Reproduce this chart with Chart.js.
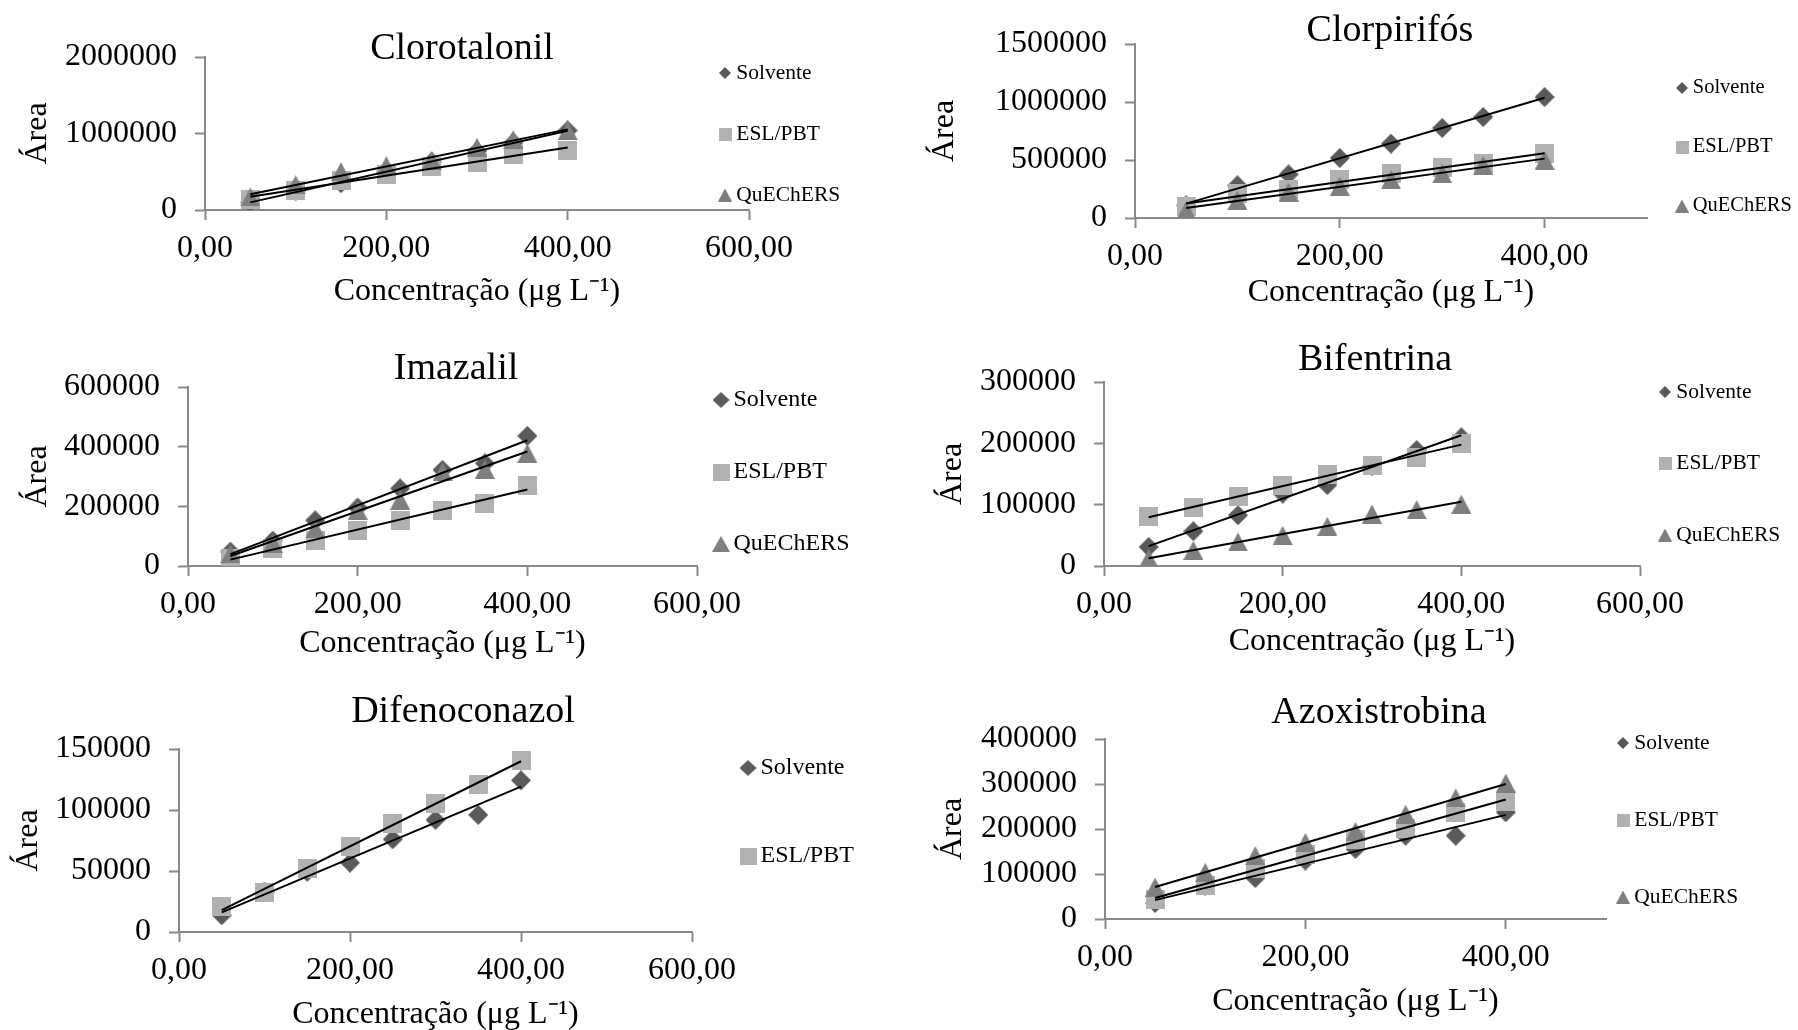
<!DOCTYPE html>
<html lang="pt">
<head>
<meta charset="utf-8">
<title>Curvas analíticas</title>
<script src="https://cdn.jsdelivr.net/npm/chart.js@4/dist/chart.umd.min.js"></script>
<style>
  html, body { margin: 0; padding: 0; background: #fff; overflow: hidden; }
  #wrap { position: relative; width: 1798px; height: 1030px; }
  #wrap canvas { position: absolute; }
</style>
</head>
<body>
<div id="wrap"></div>
<script>
// ---- Concentration levels (µg L-1) ----
const niveisA = [50, 100, 150, 200, 250, 300, 340, 400];
const niveisB = [50, 100, 150, 200, 250, 300, 350, 400];

// ---- Peak areas ----
const clorotalonilSolvente = [100000, 250000, 350000, 500000, 630000, 770000, 880000, 1040000];
const clorotalonilEsl      = [143000, 252000, 383000, 470000, 570000, 620000, 730000, 780000];
const clorotalonilQuechers = [170000, 330000, 500000, 580000, 650000, 820000, 920000, 1040000];

const clorpirifosSolvente = [109000, 282000, 376000, 517000, 641000, 776000, 871000, 1043000];
const clorpirifosEsl      = [95000, 210000, 247000, 330000, 382000, 434000, 468000, 555000];
const clorpirifosQuechers = [66000, 152000, 224000, 273000, 330000, 382000, 454000, 497000];

const imazalilSolvente = [48000, 85000, 153000, 196000, 260000, 322000, 344000, 436000];
const imazalilEsl      = [25000, 58000, 86000, 120000, 153000, 187000, 210000, 271000];
const imazalilQuechers = [41000, 77000, 125000, 187000, 221000, 316000, 324000, 378000];

const bifentrinaSolvente = [31000, 56700, 82800, 118000, 131900, 163000, 189000, 209800];
const bifentrinaEsl      = [80100, 95400, 112800, 130800, 149900, 164600, 176600, 200000];
const bifentrinaQuechers = [12000, 25600, 39200, 50000, 64800, 84500, 92000, 100800];

const difenoconazolSolvente = [13700, 33000, 49400, 56800, 76000, 91900, 96000, 124300];
const difenoconazolEsl      = [20600, 32400, 52100, 69900, 89100, 105600, 121200, 140700];

const azoxistrobinaSolvente = [35600, 74000, 91000, 130000, 155600, 185000, 185000, 237000];
const azoxistrobinaEsl      = [44400, 74000, 113000, 143000, 176000, 202000, 235600, 261000];
const azoxistrobinaQuechers = [71000, 103700, 140700, 170000, 194800, 233000, 269000, 302000];

// ---- Axis ticks ----
const ticksX600 = [0, 200, 400, 600];
const ticksX500 = [0, 200, 400];
const ticksYClorotalonil = [0, 1000000, 2000000];
const ticksYClorpirifos = [0, 500000, 1000000, 1500000];
const ticksYImazalil = [0, 200000, 400000, 600000];
const ticksYBifentrina = [0, 100000, 200000, 300000];
const ticksYDifenoconazol = [0, 50000, 100000, 150000];
const ticksYAzoxistrobina = [0, 100000, 200000, 300000, 400000];

// ---- Text ----
const tituloEixoX = 'Concentração (μg L⁻¹)';
const tituloEixoY = 'Área';
const nomesSeries = { solvente: 'Solvente', esl: 'ESL/PBT', quechers: 'QuEChERS' };

// ---- Styling ----
const FONT = "'Liberation Serif', 'Times New Roman', serif";
const AXIS_COLOR = '#898989';
const TICK_FONT = 32;
const AXIS_TITLE_FONT = 32;
const TITLE_FONT = 38;
const X_TITLE_PB = -12;
const LEGEND_BOX = 1;

Chart.defaults.font.family = FONT;
Chart.defaults.color = '#000';

const SERIES_STYLE = {
  solvente: { shape: 'diamond',  color: '#5a5a5a', order: 3 },
  esl:      { shape: 'square',   color: '#b1b1b1', order: 2 },
  quechers: { shape: 'triangle', color: '#7f7f7f', order: 1 }
};
const MARKER_SIZE = {
  data:  { diamond: [20, 20], square: [19, 19], triangle: [20, 19] },
  small: { diamond: [12, 12], square: [13, 13], triangle: [14, 13] },
  big:   { diamond: [17, 16], square: [17, 17], triangle: [18, 16] }
};

function makeMarker(shape, w, h, color) {
  const c = document.createElement('canvas');
  c.width = w; c.height = h;
  const g = c.getContext('2d');
  g.fillStyle = color;
  g.beginPath();
  if (shape === 'diamond') {
    g.moveTo(w / 2, 0); g.lineTo(w, h / 2); g.lineTo(w / 2, h); g.lineTo(0, h / 2);
  } else if (shape === 'square') {
    g.rect(0, 0, w, h);
  } else {
    g.moveTo(w / 2, 0); g.lineTo(w, h); g.lineTo(0, h);
  }
  g.closePath();
  g.fill();
  return c;
}

// Linear least-squares trendline over the measured range
function linearFit(xs, ys) {
  const n = xs.length;
  const mx = xs.reduce((a, b) => a + b, 0) / n;
  const my = ys.reduce((a, b) => a + b, 0) / n;
  let sxy = 0, sxx = 0;
  xs.forEach((x, i) => { sxy += (x - mx) * (ys[i] - my); sxx += (x - mx) * (x - mx); });
  const b = sxy / sxx;
  const a = my - b * mx;
  const x0 = Math.min(...xs), x1 = Math.max(...xs);
  return [{ x: x0, y: a + b * x0 }, { x: x1, y: a + b * x1 }];
}

// Puts the title and the legend at fixed spots of the canvas after layout
const placement = {
  id: 'placement',
  afterLayout(chart, args, opts) {
    const t = chart.titleBlock;
    if (t && opts.title) {
      const lh = TITLE_FONT * 1.2;
      t.left = opts.title[0] - 450; t.right = opts.title[0] + 450; t.width = 900;
      t.top = opts.title[1] - lh / 2; t.bottom = t.top + lh; t.height = lh;
    }
    const lg = chart.legend;
    if (lg && opts.legend) {
      const L = opts.legend;
      const pad = L.gap - L.fs;
      lg.left = L.x - pad - L.bw / 2;
      lg.top = L.y - pad - L.fs / 2;
      lg.width = 400; lg.right = lg.left + 400;
      lg.height = 1000; lg.bottom = lg.top + 1000;
    }
  }
};

const fmtX = v => v.toFixed(2).replace('.', ',');
const fmtY = v => String(v);

const graficos = [
  {
    titulo: 'Clorotalonil', niveis: niveisA,
    series: [['solvente', clorotalonilSolvente], ['esl', clorotalonilEsl], ['quechers', clorotalonilQuechers]],
    xTicks: ticksX600, xMax: 600, yTicks: ticksYClorotalonil, yMax: 2000000,
    cell: [0, 0, 899, 335], area: [205, 749, 57, 210], titlePos: [462, 49], yTitleX: 38, xTitleY: 292,
    legend: { x: 725, y: 73, gap: 61, fs: 21.5, size: 'small' }
  },
  {
    titulo: 'Clorpirifós', niveis: niveisA,
    series: [['solvente', clorpirifosSolvente], ['esl', clorpirifosEsl], ['quechers', clorpirifosQuechers]],
    xTicks: ticksX500, xMax: 500, yTicks: ticksYClorpirifos, yMax: 1500000,
    cell: [899, 0, 899, 335], area: [1135, 1647, 44, 218], titlePos: [1390, 31], yTitleX: 945, xTitleY: 293,
    legend: { x: 1682, y: 88, gap: 59, fs: 20.5, size: 'small' }
  },
  {
    titulo: 'Imazalil', niveis: niveisB,
    series: [['solvente', imazalilSolvente], ['esl', imazalilEsl], ['quechers', imazalilQuechers]],
    xTicks: ticksX600, xMax: 600, yTicks: ticksYImazalil, yMax: 600000,
    cell: [0, 335, 899, 345], area: [188, 697, 387, 566], titlePos: [456, 369], yTitleX: 38, xTitleY: 644,
    legend: { x: 721, y: 400, gap: 72, fs: 24, size: 'big' }
  },
  {
    titulo: 'Bifentrina', niveis: niveisB,
    series: [['solvente', bifentrinaSolvente], ['esl', bifentrinaEsl], ['quechers', bifentrinaQuechers]],
    xTicks: ticksX600, xMax: 600, yTicks: ticksYBifentrina, yMax: 300000,
    cell: [899, 335, 899, 345], area: [1104, 1640, 382, 566], titlePos: [1375, 360], yTitleX: 953, xTitleY: 642,
    legend: { x: 1665, y: 392, gap: 71.5, fs: 21.5, size: 'small' }
  },
  {
    titulo: 'Difenoconazol', niveis: niveisB,
    series: [['solvente', difenoconazolSolvente], ['esl', difenoconazolEsl]],
    xTicks: ticksX600, xMax: 600, yTicks: ticksYDifenoconazol, yMax: 150000,
    cell: [0, 680, 899, 350], area: [179, 692, 749, 932], titlePos: [463, 712], yTitleX: 29, xTitleY: 1015,
    legend: { x: 748, y: 768, gap: 88, fs: 24, size: 'big' }
  },
  {
    titulo: 'Azoxistrobina', niveis: niveisB,
    series: [['solvente', azoxistrobinaSolvente], ['esl', azoxistrobinaEsl], ['quechers', azoxistrobinaQuechers]],
    xTicks: ticksX500, xMax: 500, yTicks: ticksYAzoxistrobina, yMax: 400000,
    cell: [899, 680, 899, 350], area: [1105, 1606, 739, 919], titlePos: [1379, 713], yTitleX: 953, xTitleY: 1002,
    legend: { x: 1623, y: 743, gap: 77, fs: 21.5, size: 'small' }
  }
];

const wrap = document.getElementById('wrap');

graficos.forEach(g => {
  const [cx, cy, cw, ch] = g.cell;
  const [aL, aR, aT, aB] = g.area;
  const canvas = document.createElement('canvas');
  canvas.width = cw; canvas.height = ch;
  canvas.style.left = cx + 'px';
  canvas.style.top = cy + 'px';
  wrap.appendChild(canvas);

  const axLH = AXIS_TITLE_FONT * 1.2;
  const yAxisLeft = g.yTitleX - axLH / 2;
  const yW = aL - yAxisLeft;
  const xAxisBottom = g.xTitleY + axLH / 2 + X_TITLE_PB;
  const xH = xAxisBottom - aB;

  const pointSets = g.series.map(([key, values]) => {
    const st = SERIES_STYLE[key];
    const [w, h] = MARKER_SIZE.data[st.shape];
    const [lw, lh] = MARKER_SIZE[g.legend.size][st.shape];
    return {
      label: nomesSeries[key],
      data: g.niveis.map((x, i) => ({ x, y: values[i] })),
      pointStyle: makeMarker(st.shape, w, h, st.color),
      legendMarker: makeMarker(st.shape, lw, lh, st.color),
      backgroundColor: st.color,
      borderColor: st.color,
      pointRadius: 10,
      pointHoverRadius: 10,
      showLine: false,
      order: st.order
    };
  });
  const trendSets = g.series.map(([key, values]) => ({
    label: nomesSeries[key] + ' (linear)',
    trend: true,
    data: linearFit(g.niveis, values),
    showLine: true,
    borderColor: '#000',
    borderWidth: 2,
    pointRadius: 0,
    pointHoverRadius: 0,
    fill: false,
    order: 0
  }));

  const tickFont = { family: FONT, size: TICK_FONT };
  const axisTitleFont = { family: FONT, size: AXIS_TITLE_FONT, lineHeight: 1.2 };

  new Chart(canvas, {
    type: 'scatter',
    data: { datasets: [...pointSets, ...trendSets] },
    plugins: [placement],
    options: {
      responsive: false,
      maintainAspectRatio: false,
      animation: false,
      devicePixelRatio: 1,
      events: [],
      layout: {
        padding: { left: yAxisLeft - cx, top: aT - cy, right: cx + cw - aR, bottom: cy + ch - xAxisBottom }
      },
      scales: {
        x: {
          type: 'linear', min: 0, max: g.xMax, bounds: 'data',
          border: { display: true, color: AXIS_COLOR, width: 2 },
          grid: { display: true, drawOnChartArea: false, drawTicks: true, tickLength: 10, tickColor: AXIS_COLOR, tickWidth: 2 },
          ticks: { font: tickFont, color: '#000', padding: 9, maxRotation: 0, autoSkip: false, callback: fmtX },
          afterBuildTicks: s => { s.ticks = g.xTicks.map(v => ({ value: v })); },
          title: { display: true, text: tituloEixoX, color: '#000', font: axisTitleFont, padding: { top: 0, bottom: X_TITLE_PB } },
          afterFit: s => { s.height = xH; }
        },
        y: {
          type: 'linear', min: 0, max: g.yMax, bounds: 'data',
          border: { display: true, color: AXIS_COLOR, width: 2 },
          grid: { display: true, drawOnChartArea: false, drawTicks: true, tickLength: 10, tickColor: AXIS_COLOR, tickWidth: 2 },
          ticks: { font: tickFont, color: '#000', padding: 18, autoSkip: false, callback: fmtY },
          afterBuildTicks: s => { s.ticks = g.yTicks.map(v => ({ value: v })); },
          title: { display: true, text: tituloEixoY, color: '#000', font: axisTitleFont, padding: { top: 0, bottom: 0 } },
          afterFit: s => { s.width = yW; }
        }
      },
      plugins: {
        tooltip: { enabled: false },
        title: {
          display: true, text: g.titulo, color: '#000',
          font: { family: FONT, size: TITLE_FONT, weight: 'normal', lineHeight: 1.2 },
          padding: { top: 0, bottom: -TITLE_FONT * 1.2 }
        },
        legend: {
          display: true,
          position: 'chartArea',
          align: 'start',
          labels: {
            usePointStyle: true,
            boxWidth: LEGEND_BOX,
            boxHeight: g.legend.fs,
            padding: g.legend.gap - g.legend.fs,
            color: '#000',
            font: { family: FONT, size: g.legend.fs },
            filter: (item, data) => !data.datasets[item.datasetIndex].trend,
            sort: (a, b) => a.datasetIndex - b.datasetIndex,
            generateLabels: chart => Chart.defaults.plugins.legend.labels.generateLabels(chart).map(item => {
              const ds = chart.data.datasets[item.datasetIndex];
              item.pointStyle = ds.legendMarker || item.pointStyle;
              item.fontColor = '#000';
              return item;
            })
          }
        },
        placement: {
          title: [g.titlePos[0] - cx, g.titlePos[1] - cy],
          legend: { x: g.legend.x - cx, y: g.legend.y - cy, gap: g.legend.gap, fs: g.legend.fs, bw: LEGEND_BOX }
        }
      }
    }
  });
});
</script>
</body>
</html>
